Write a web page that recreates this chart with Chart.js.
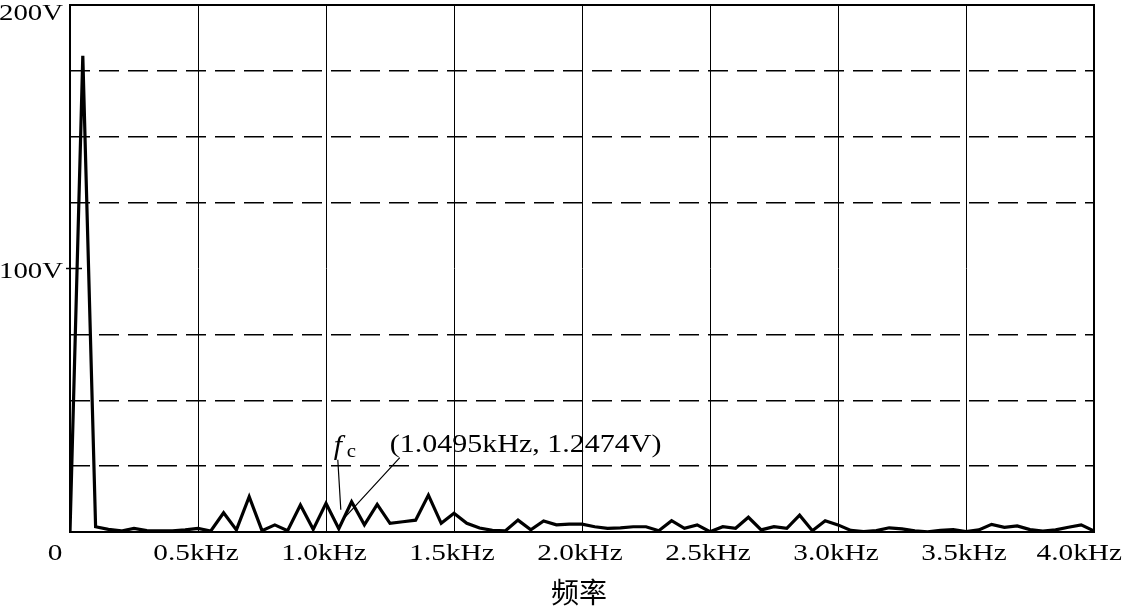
<!DOCTYPE html>
<html>
<head>
<meta charset="utf-8">
<script src="https://cdn.jsdelivr.net/npm/chart.js@4/dist/chart.umd.min.js"></script>
<style>
html,body{margin:0;padding:0;background:#fff;}
canvas{display:block;}
</style>
</head>
<body>
<canvas id="c" width="1122" height="608"></canvas>
<script>
// Frequency (kHz) of each spectrum sample
const freqs = [
  0.00,0.05,0.10,0.15,0.20,0.25,0.30,0.35,0.40,0.45,
  0.50,0.55,0.60,0.65,0.70,0.75,0.80,0.85,0.90,0.95,
  1.00,1.05,1.10,1.15,1.20,1.25,1.30,1.35,1.40,1.45,
  1.50,1.55,1.60,1.65,1.70,1.75,1.80,1.85,1.90,1.95,
  2.00,2.05,2.10,2.15,2.20,2.25,2.30,2.35,2.40,2.45,
  2.50,2.55,2.60,2.65,2.70,2.75,2.80,2.85,2.90,2.95,
  3.00,3.05,3.10,3.15,3.20,3.25,3.30,3.35,3.40,3.45,
  3.50,3.55,3.60,3.65,3.70,3.75,3.80,3.85,3.90,3.95,
  4.00
];
// Amplitude (V)
const amplitudes = [
  0.0,180.7,2.0,1.0,0.4,1.4,0.5,0.4,0.4,0.8,
  1.4,0.4,7.3,0.8,13.4,0.5,2.7,0.5,10.2,1.0,
  10.9,1.2474,11.5,2.7,10.5,3.3,3.9,4.5,14.0,3.3,
  7.1,3.3,1.5,0.6,0.4,4.5,0.8,4.2,2.7,3.0,
  3.0,2.0,1.4,1.6,2.0,2.0,0.5,4.3,1.4,2.7,
  0.1,2.0,1.4,5.6,0.8,2.0,1.4,6.4,0.5,4.3,
  2.7,0.6,0.2,0.5,1.6,1.2,0.4,0.1,0.6,0.9,
  0.2,0.8,2.9,1.8,2.3,0.9,0.3,0.8,1.8,2.7,
  0.4
];
// Axis tick labels
const xTickValues = [0, 0.5, 1.0, 1.5, 2.0, 2.5, 3.0, 3.5, 4.0];
const xTickLabels = ["0", "0.5kHz", "1.0kHz", "1.5kHz", "2.0kHz", "2.5kHz", "3.0kHz", "3.5kHz", "4.0kHz"];
const yTickValues = [100, 200];
const yTickLabels = ["100V", "200V"];
const xTitle = "频率";
// Marked point
const markerFreq = 1.05;
const markerAmp = 1.2474;
const markerText = "(1.0495kHz, 1.2474V)";

const points = freqs.map((f, i) => ({x: f, y: amplitudes[i]}));
const SERIF = '"Liberation Serif", "DejaVu Serif", serif';

function stretchedText(ctx, text, x, y, sx, align) {
  ctx.save();
  ctx.translate(x, y);
  ctx.scale(sx, 1);
  ctx.textAlign = align;
  ctx.fillText(text, 0, 0);
  ctx.restore();
}

const decor = {
  id: 'decor',
  afterDraw(chart) {
    const ctx = chart.ctx;
    const a = chart.chartArea;
    const xs = chart.scales.x, ys = chart.scales.y;
    ctx.save();
    // frame
    ctx.strokeStyle = '#000';
    ctx.lineWidth = 2;
    ctx.strokeRect(a.left, a.top, a.right - a.left, a.bottom - a.top);
    // small tick at 100V
    ctx.lineWidth = 1.5;
    ctx.beginPath();
    const y100 = ys.getPixelForValue(100);
    ctx.moveTo(a.left - 4, y100);
    ctx.lineTo(a.left + 12, y100);
    ctx.stroke();

    ctx.fillStyle = '#000';
    ctx.textBaseline = 'alphabetic';
    // y labels
    ctx.font = '24px ' + SERIF;
    yTickValues.forEach((v, i) => {
      let by = ys.getPixelForValue(v) + 9;
      if (by < 20) by = 20;
      stretchedText(ctx, yTickLabels[i], a.left - 7, by, 1.2, 'right');
    });
    // x labels
    xTickValues.forEach((v, i) => {
      const lbl = xTickLabels[i];
      const w = ctx.measureText(lbl).width * 1.22;
      let cx = xs.getPixelForValue(v) - 2;
      if (v === 0) cx = a.left - 15;
      if (cx + w / 2 > chart.width) cx = chart.width - w / 2;
      stretchedText(ctx, lbl, cx, 560, 1.22, 'center');
    });
    // x title
    ctx.font = '28px "Noto Sans CJK SC", sans-serif';
    ctx.textBaseline = 'middle';
    ctx.textAlign = 'center';
    ctx.fillText(xTitle, 579, 592);

    // annotation
    const px = xs.getPixelForValue(markerFreq);
    const py = ys.getPixelForValue(markerAmp);
    ctx.textBaseline = 'alphabetic';
    ctx.font = '25px ' + SERIF;
    stretchedText(ctx, markerText, px + 51, py - 77, 1.2, 'left');
    ctx.font = 'italic 27px ' + SERIF;
    stretchedText(ctx, 'f', px - 5, py - 75, 1.1, 'left');
    ctx.font = '19px ' + SERIF;
    stretchedText(ctx, 'c', px + 8, py - 72, 1.1, 'left');
    // leader lines
    ctx.lineWidth = 1.2;
    ctx.beginPath();
    ctx.moveTo(px - 1, py - 69);
    ctx.lineTo(px + 2, py - 19);
    ctx.moveTo(px + 61, py - 71);
    ctx.lineTo(px + 4, py - 9);
    ctx.stroke();
    ctx.restore();
  }
};

new Chart(document.getElementById('c'), {
  type: 'line',
  data: {
    datasets: [{
      data: points,
      borderColor: '#000',
      borderWidth: 3.2,
      pointRadius: 0,
      tension: 0,
      fill: false,
      borderJoinStyle: 'miter'
    }]
  },
  options: {
    responsive: false,
    animation: false,
    devicePixelRatio: 1,
    layout: {padding: {left: 70, top: 5, right: 28, bottom: 76}},
    plugins: {legend: {display: false}, tooltip: {enabled: false}},
    scales: {
      x: {
        type: 'linear', min: 0, max: 4,
        ticks: {display: false, stepSize: 0.5},
        grid: {color: '#000', lineWidth: 1, drawTicks: false},
        border: {display: false}
      },
      y: {
        min: 0, max: 200,
        ticks: {display: false, stepSize: 25},
        grid: {
          color: (c) => (c.tick && (c.tick.value % 100 === 0)) ? 'rgba(0,0,0,0)' : '#000',
          lineWidth: 1.5, drawTicks: false
        },
        border: {display: false, dash: [20, 9]}
      }
    }
  },
  plugins: [decor]
});
</script>
</body>
</html>
